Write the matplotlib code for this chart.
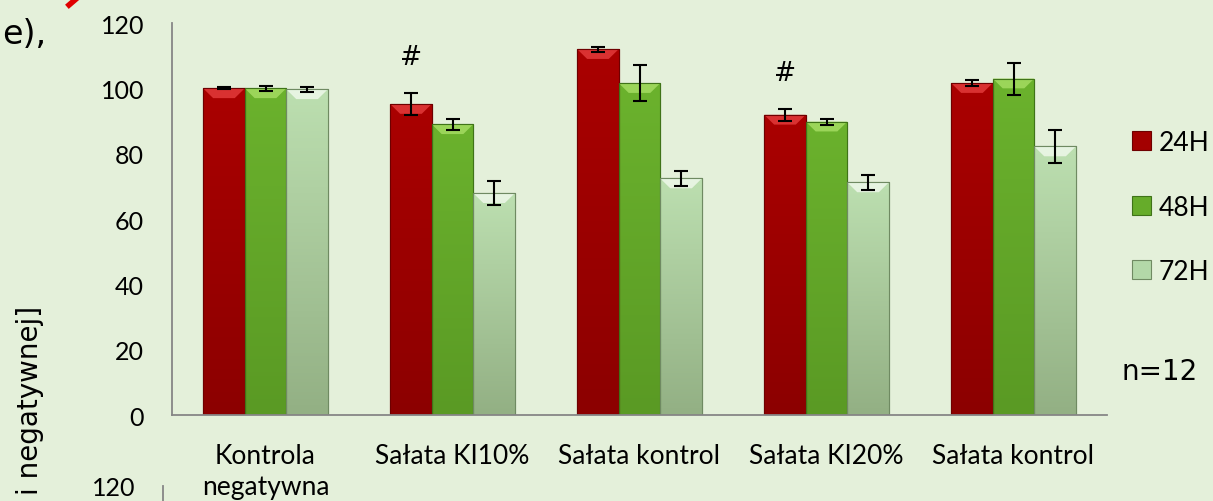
import numpy as np
import matplotlib.pyplot as plt
from matplotlib.colors import LinearSegmentedColormap
from matplotlib.patches import Polygon
from matplotlib.lines import Line2D

# dane
categories = ['Kontrola\nnegatywna', 'Sałata KI10%', 'Sałata kontrol', 'Sałata KI20%', 'Sałata kontrol']
series_names = ['24H', '48H', '72H']
v24 = [100.0, 95.2, 112.0, 91.9, 101.6]
e24 = [0.3, 3.3, 0.8, 1.8, 1.0]
v48 = [100.0, 89.0, 101.6, 89.8, 103.0]
e48 = [0.8, 1.7, 5.6, 0.9, 4.9]
v72 = [99.7, 67.9, 72.4, 71.2, 82.2]
e72 = [0.7, 3.7, 2.4, 2.3, 5.1]
hash_groups = [1, 3]   # grupy oznaczone '#' (seria 24H)
y_ticks = [0, 20, 40, 60, 80, 100, 120]

bg = '#E4F0DA'
# (kolor glowny, gora gradientu, dol gradientu, fazowanie, krawedz)
styles = [
    ('#A30000', '#AA0000', '#8C0000', '#E23A3A', '#6E0000'),
    ('#66AC2A', '#6BB22D', '#5A9A24', '#A4DC62', '#3F7318'),
    ('#B3D8A8', '#BCDFB0', '#93B084', '#EEF8EA', '#6F8A62'),
]

tick_font = 'Lato'
hand_font = 'DejaVu Sans'

fig = plt.figure(figsize=(12.13, 5.02), dpi=100)
fig.patch.set_facecolor(bg)
ax = fig.add_axes([172/1213, 1-416/502, (1107-172)/1213, (416-24)/502])
ax.set_facecolor(bg)

x = np.arange(len(categories))
w = 1/4.5
values = [v24, v48, v72]
errors = [e24, e48, e72]

containers = []
for i, (vals, errs) in enumerate(zip(values, errors)):
    main, top, bottom, bevel, edge = styles[i]
    bars = ax.bar(x + (i-1)*w, vals, w, color=main, edgecolor=edge, linewidth=0.8,
                  label=series_names[i], zorder=2)
    containers.append(bars)
    cmap = LinearSegmentedColormap.from_list('g%d' % i, [bottom, top])
    grad = np.linspace(0, 1, 100).reshape(-1, 1)
    for b in bars:
        bx, bw, bh = b.get_x(), b.get_width(), b.get_height()
        im = ax.imshow(grad, extent=[bx, bx+bw, 0, bh], origin='lower', aspect='auto',
                       cmap=cmap, zorder=2.1)
        im.set_clip_path(b)
        # fazowana gorna krawedz
        bev_h = 3.0
        bev_w = bw*0.24
        poly = Polygon([[bx, bh], [bx+bw, bh], [bx+bw-bev_w, bh-bev_h], [bx+bev_w, bh-bev_h]],
                       closed=True, facecolor=bevel, edgecolor='none', alpha=0.85, zorder=2.2)
        ax.add_patch(poly)
        ax.add_patch(Polygon([[bx, 0], [bx+bw, 0], [bx+bw, bh], [bx, bh]], closed=True,
                             facecolor='none', edgecolor=edge, linewidth=0.8, zorder=2.3))
    ax.errorbar(x + (i-1)*w, vals, yerr=errs, fmt='none', ecolor='black',
                elinewidth=1.5, capsize=5, capthick=1.5, zorder=3)

for g in hash_groups:
    ax.text(x[g] - w, v24[g] + e24[g] + 11, '#', ha='center', va='center',
            fontsize=19, family=hand_font, zorder=4)

ax.set_xlim(-0.5, len(categories) - 0.5)
ax.set_ylim(0, 120)
ax.set_yticks(y_ticks)
ax.set_xticks(x)
ax.set_xticklabels(categories, fontsize=19, family=tick_font)
for lbl in ax.get_xticklabels():
    lbl.set_linespacing(1.3)
for lbl in ax.get_yticklabels():
    lbl.set_fontsize(18)
    lbl.set_family(tick_font)
ax.tick_params(axis='x', length=0, pad=20)
ax.tick_params(axis='y', length=0, pad=20)
for s in ['top', 'right']:
    ax.spines[s].set_visible(False)
for s in ['left', 'bottom']:
    ax.spines[s].set_color('#868686')
    ax.spines[s].set_linewidth(1.3)

leg = fig.legend(handles=containers, labels=series_names, loc='center left',
                 bbox_to_anchor=(1132/1213, 1-208/502), frameon=False,
                 prop={'family': tick_font, 'size': 19}, handlelength=0.72,
                 handleheight=0.72, handletextpad=0.3, labelspacing=1.5,
                 borderpad=0, borderaxespad=0)

fig.text(1160/1213, 1-372/502, 'n=12', ha='center', va='center', fontsize=20, family=hand_font)
fig.text(2/1213, 1-35/502, 'e),', ha='left', va='center', fontsize=24, family=hand_font)
fig.text(30/1213, 1-306/502, 'i negatywnej]', rotation=90, ha='center', va='top',
         fontsize=20, family=hand_font)
fig.text(135/1213, 1-489/502, '120', ha='right', va='center', fontsize=18, family=tick_font)
fig.add_artist(Line2D([163/1213, 163/1213], [0, 1-487/502], color='#868686', lw=1.3))
fig.add_artist(Line2D([76/1213, 69/1213], [1.0, 1-6/502], color='#E00000', lw=4))

fig.savefig('out.png', dpi=100, facecolor=bg)
